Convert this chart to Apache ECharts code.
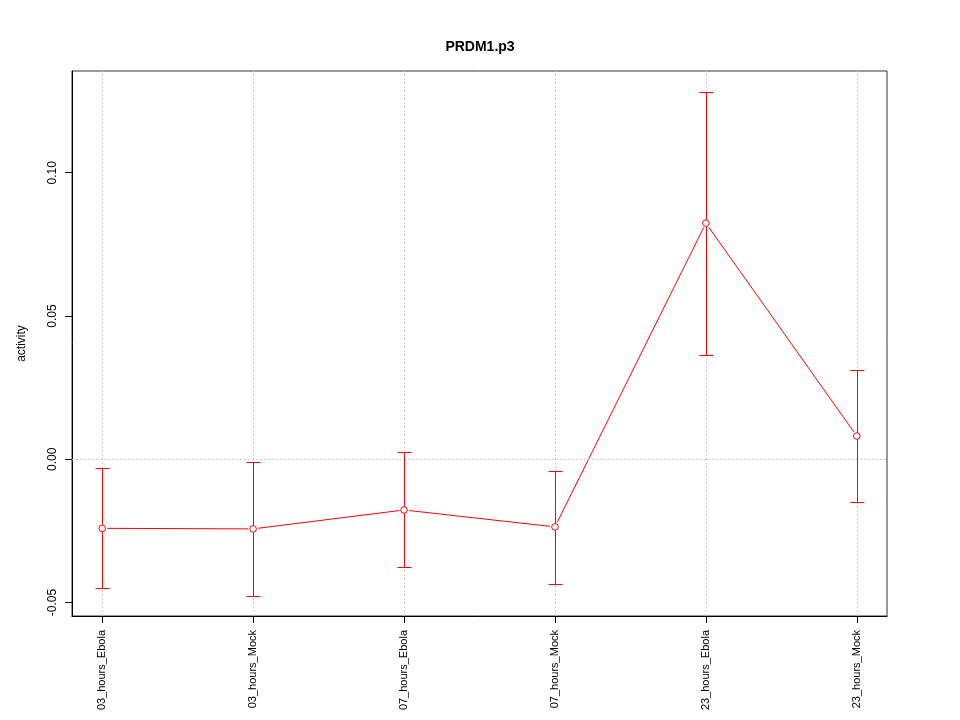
<!DOCTYPE html>
<html>
<head>
<meta charset="utf-8">
<script src="https://cdn.jsdelivr.net/npm/echarts@6/dist/echarts.min.js"></script>
<style>html,body{margin:0;padding:0;background:#fff}#c{width:960px;height:720px}</style>
</head>
<body>
<div id="c"></div>
<script>
const categories = ['03_hours_Ebola','03_hours_Mock','07_hours_Ebola','07_hours_Mock','23_hours_Ebola','23_hours_Mock'];
const activity = [-0.0241, -0.0243, -0.0177, -0.0236, 0.0824, 0.0081];
const upper = [-0.0031, -0.0009, 0.0024, -0.0040, 0.1282, 0.0311];
const lower = [-0.0448, -0.0477, -0.0376, -0.0436, 0.0365, -0.0149];
const yTicks = [-0.05, 0.00, 0.05, 0.10];

const chart = echarts.init(document.getElementById('c'));
const xIdx = categories.map((_, i) => i);
const font = 'Liberation Sans, Arial, sans-serif';
const px = v => Math.round(v) + 0.5;
chart.setOption({
  animation: false,
  title: { text: 'PRDM1.p3', left: 'center', top: 35, textStyle: { fontFamily: font, fontSize: 14, fontWeight: 'bold', color: '#000' } },
  grid: { left: 72, right: 73, top: 71, bottom: 104, show: true, borderColor: '#333', borderWidth: 1 },
  xAxis: {
    type: 'value', min: -0.2, max: 5.2,
    axisLine: { show: true, onZero: false, lineStyle: { color: '#000' } },
    axisTick: { show: true, length: 7, customValues: xIdx, lineStyle: { color: '#000' } },
    axisLabel: { customValues: xIdx, rotate: 90, margin: 14, fontFamily: font, fontSize: 11, color: '#000', formatter: v => categories[Math.round(v)] },
    splitLine: { show: false }
  },
  yAxis: {
    type: 'value', min: -0.0547, max: 0.1355,
    name: 'activity', nameLocation: 'middle', nameGap: 44, nameRotate: 90,
    nameTextStyle: { fontFamily: font, fontSize: 12, color: '#000' },
    axisLine: { show: true, onZero: false, lineStyle: { color: '#000' } },
    axisTick: { show: true, length: 7, customValues: yTicks, lineStyle: { color: '#000' } },
    axisLabel: { customValues: yTicks, rotate: 90, margin: 13, fontFamily: font, fontSize: 12, color: '#000', formatter: v => v.toFixed(2) },
    splitLine: { show: false }
  },
  series: [
    {
      type: 'line',
      data: categories.map((_, i) => [i, activity[i]]),
      symbol: 'none',
      lineStyle: { color: '#ff0000', width: 1 },
      markLine: {
        silent: true, symbol: 'none', label: { show: false },
        lineStyle: { color: '#cccccc', type: [2, 2], width: 1 },
        data: [{ yAxis: 0 }].concat(xIdx.map(i => ({ xAxis: i })))
      },
      z: 2
    },
    {
      type: 'custom',
      silent: true,
      data: categories.map((_, i) => [i, lower[i], upper[i], activity[i]]),
      renderItem: (params, api) => {
        const x = api.value(0);
        const lo = api.coord([x, api.value(1)]);
        const hi = api.coord([x, api.value(2)]);
        const mid = api.coord([x, api.value(3)]);
        const cx = px(lo[0]);
        const w = 7;
        const st = { stroke: '#ff0000', lineWidth: 1 };
        return { type: 'group', children: [
          { type: 'line', shape: { x1: cx, y1: px(lo[1]), x2: cx, y2: px(hi[1]) }, style: st },
          { type: 'line', shape: { x1: cx-w, y1: px(lo[1]), x2: cx+w, y2: px(lo[1]) }, style: st },
          { type: 'line', shape: { x1: cx-w, y1: px(hi[1]), x2: cx+w, y2: px(hi[1]) }, style: st },
          { type: 'circle', shape: { cx: mid[0], cy: mid[1], r: 5 }, style: { fill: '#fff', stroke: null } },
          { type: 'line', shape: { x1: cx, y1: mid[1]-5, x2: cx, y2: mid[1]+5 }, style: st },
          { type: 'circle', shape: { cx: mid[0], cy: mid[1], r: 3.3 }, style: { fill: '#fff', stroke: '#ff0000', lineWidth: 1 } }
        ]};
      },
      z: 5
    }
  ]
});
</script>
</body>
</html>
